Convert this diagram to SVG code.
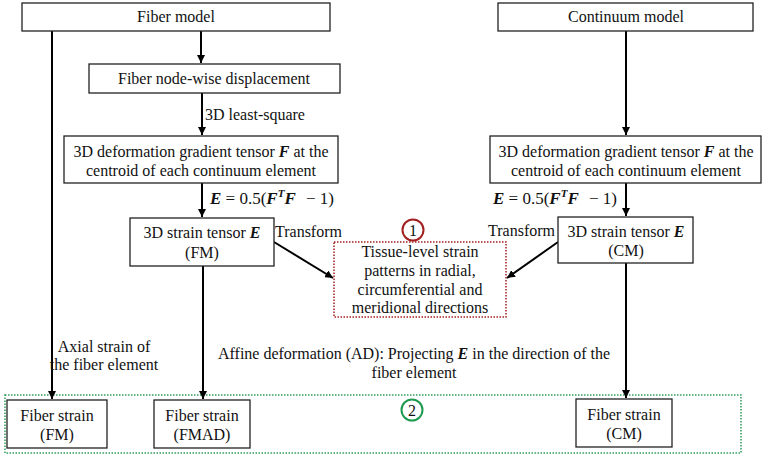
<svg xmlns="http://www.w3.org/2000/svg" width="763" height="457" viewBox="0 0 763 457">
<defs>
<marker id="ah" viewBox="0 0 10 10" refX="10" refY="5" markerWidth="8" markerHeight="8" markerUnits="userSpaceOnUse" orient="auto">
<path d="M0,0 L10,5 L0,10 z" fill="#000"/>
</marker>
<style>
text{font-family:"Liberation Serif","Times New Roman",serif;font-size:16px;fill:#111}
.c{text-anchor:middle}
.box{fill:#fff;stroke:#222;stroke-width:1.3}
.ln{stroke:#000;stroke-width:2;fill:none}
.b{font-weight:bold;font-style:italic}
.eq{font-size:17px}
</style>
</defs>
<rect width="763" height="457" fill="#fff"/>
<g id="group-2">
<rect x="5" y="395" width="736" height="58" fill="none" stroke="#2e9e5e" stroke-width="1.5" stroke-dasharray="1.5,1.5"/>
<circle cx="412" cy="410" r="10.5" fill="none" stroke="#1e9a50" stroke-width="2"/>
<text x="412" y="415.5" class="c">2</text>
</g>
<g id="connectors">
<line class="ln" x1="201" y1="31" x2="201" y2="63" marker-end="url(#ah)"/>
<line class="ln" x1="52" y1="31" x2="52" y2="399" marker-end="url(#ah)"/>
<line class="ln" x1="202" y1="93" x2="202" y2="135" marker-end="url(#ah)"/>
<line class="ln" x1="202" y1="183" x2="202" y2="217" marker-end="url(#ah)"/>
<line class="ln" x1="203" y1="266" x2="203" y2="399" marker-end="url(#ah)"/>
<line class="ln" x1="274" y1="242" x2="333" y2="278" marker-end="url(#ah)"/>
<line class="ln" x1="626" y1="31" x2="626" y2="135" marker-end="url(#ah)"/>
<line class="ln" x1="626" y1="183" x2="626" y2="216" marker-end="url(#ah)"/>
<line class="ln" x1="558" y1="242" x2="507" y2="278" marker-end="url(#ah)"/>
<line class="ln" x1="626" y1="263" x2="626" y2="398" marker-end="url(#ah)"/>
<text x="205" y="120">3D least-square</text>
<text x="210" y="204" class="eq"><tspan class="b">E</tspan> = 0.5(<tspan class="b">F</tspan><tspan class="b" font-size="11" dy="-7">T</tspan><tspan class="b" dy="7">F</tspan><tspan dx="6"> − 1)</tspan></text>
<text x="493" y="204" class="eq"><tspan class="b">E</tspan> = 0.5(<tspan class="b">F</tspan><tspan class="b" font-size="11" dy="-7">T</tspan><tspan class="b" dy="7">F</tspan><tspan dx="6"> − 1)</tspan></text>
<text x="275" y="237">Transform</text>
<text x="555" y="236" text-anchor="end">Transform</text>
<text x="104" y="352" class="c">Axial strain of</text>
<text x="104" y="370" class="c">the fiber element</text>
<text x="414" y="359" class="c">Affine deformation (AD): Projecting <tspan class="b">E</tspan> in the direction of the</text>
<text x="414" y="378" class="c">fiber element</text>
</g>
<g id="fiber-model">
<rect class="box" x="22" y="3" width="308" height="28"/>
<text x="176" y="22" class="c">Fiber model</text>
</g>
<g id="fiber-disp">
<rect class="box" x="89" y="64" width="251" height="29"/>
<text x="214" y="84" class="c">Fiber node-wise displacement</text>
</g>
<g id="deform-fm">
<rect class="box" x="64" y="136" width="274" height="47"/>
<text x="201" y="157" class="c">3D deformation gradient tensor <tspan class="b">F</tspan> at the</text>
<text x="201" y="176" class="c">centroid of each continuum element</text>
</g>
<g id="strain-fm">
<rect class="box" x="130" y="218" width="144" height="48"/>
<text x="202" y="238" class="c">3D strain tensor <tspan class="b">E</tspan></text>
<text x="202" y="258" class="c">(FM)</text>
</g>
<g id="continuum-model">
<rect class="box" x="498" y="3" width="255" height="28"/>
<text x="626" y="22" class="c">Continuum model</text>
</g>
<g id="deform-cm">
<rect class="box" x="490" y="136" width="271" height="47"/>
<text x="626" y="157" class="c">3D deformation gradient tensor <tspan class="b">F</tspan> at the</text>
<text x="626" y="176" class="c">centroid of each continuum element</text>
</g>
<g id="strain-cm">
<rect class="box" x="558" y="217" width="135" height="46"/>
<text x="626" y="237" class="c">3D strain tensor <tspan class="b">E</tspan></text>
<text x="626" y="256" class="c">(CM)</text>
</g>
<g id="tissue">
<rect x="334" y="242" width="172" height="75" fill="#fff" stroke="#a32020" stroke-width="1.5" stroke-dasharray="1.5,1.5"/>
<text x="420" y="257" class="c">Tissue-level strain</text>
<text x="420" y="276" class="c">patterns in radial,</text>
<text x="420" y="295" class="c">circumferential and</text>
<text x="420" y="313" class="c">meridional directions</text>
<circle cx="413" cy="230" r="10.5" fill="#fff" stroke="#a32020" stroke-width="2"/>
<text x="413" y="235.5" class="c">1</text>
</g>
<g id="fs-fm">
<rect class="box" x="7" y="400" width="100" height="48"/>
<text x="57" y="421" class="c">Fiber strain</text>
<text x="57" y="440" class="c">(FM)</text>
</g>
<g id="fs-fmad">
<rect class="box" x="154" y="400" width="96" height="48"/>
<text x="202" y="421" class="c">Fiber strain</text>
<text x="202" y="440" class="c">(FMAD)</text>
</g>
<g id="fs-cm">
<rect class="box" x="576" y="399" width="96" height="48"/>
<text x="624" y="420" class="c">Fiber strain</text>
<text x="624" y="439" class="c">(CM)</text>
</g>
</svg>
